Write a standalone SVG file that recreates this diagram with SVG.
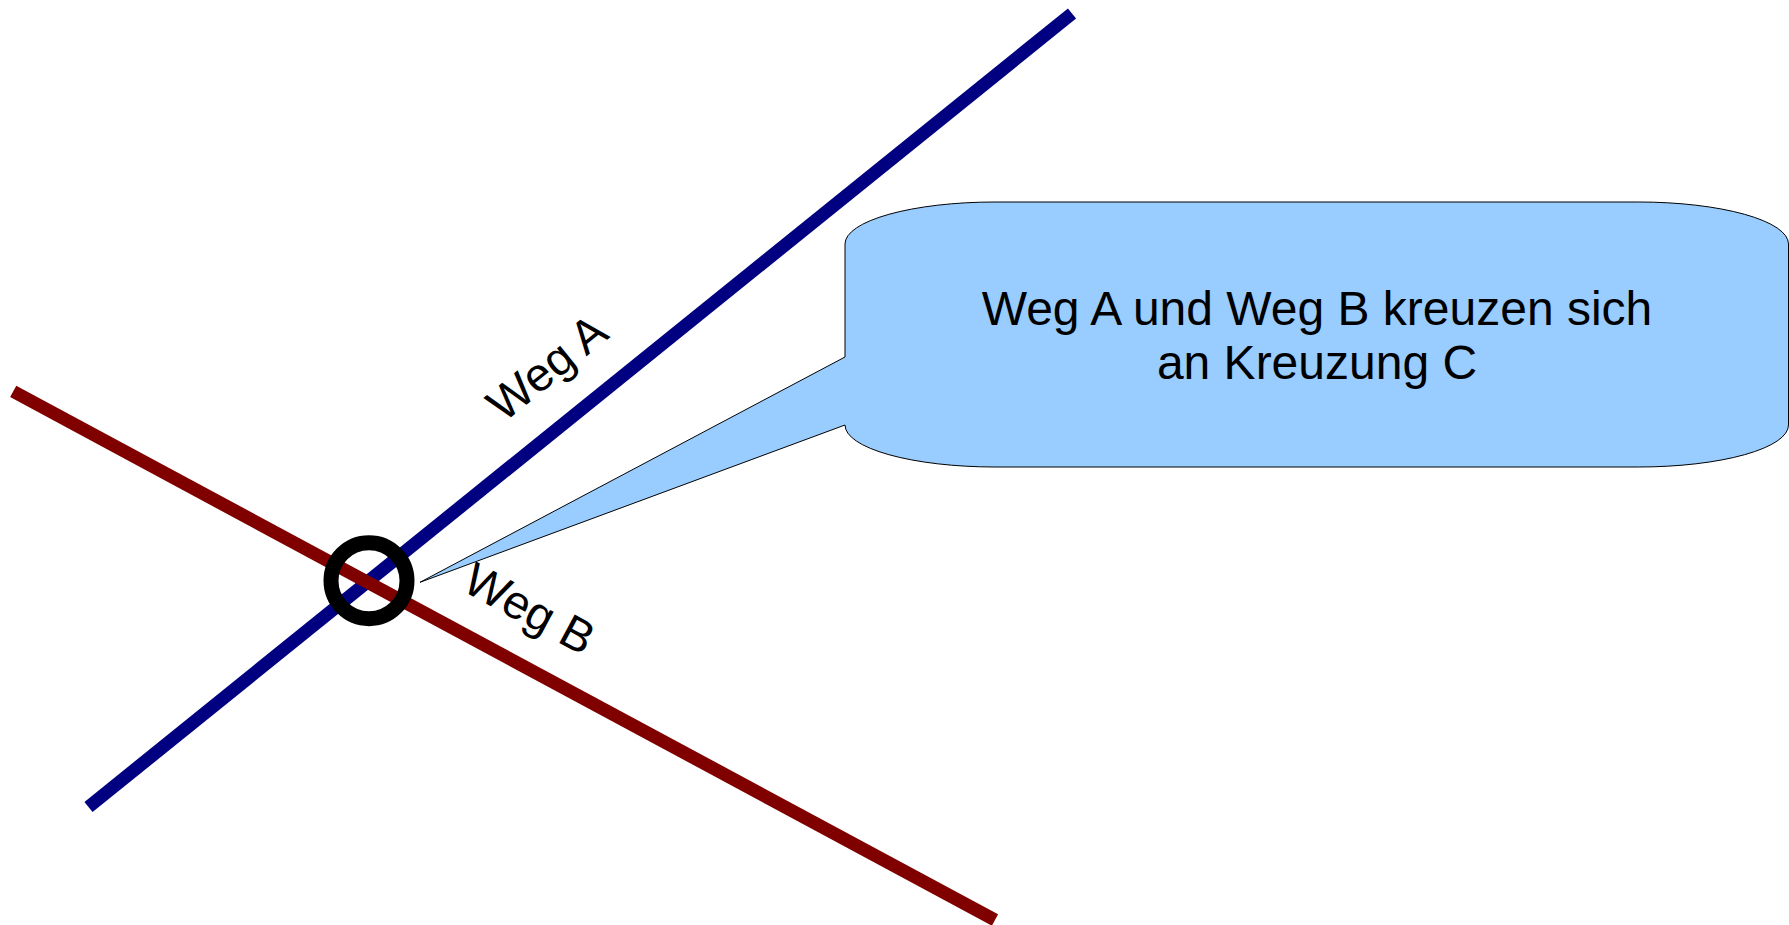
<svg xmlns="http://www.w3.org/2000/svg" width="1789" height="925" viewBox="0 0 1789 925">
  <style>
    .road { fill: none; stroke-width: 13; stroke-linecap: butt; }
    .road-a { stroke: #000080; }
    .road-b { stroke: #800000; }
    .label { font-family: "Liberation Sans", Arial, sans-serif; fill: #000000; }
    .callout { fill: #99ccff; stroke: #000000; stroke-width: 1; stroke-linejoin: miter; }
  </style>
  <rect x="0" y="0" width="1789" height="925" fill="#ffffff"/>

  <!-- the two roads -->
  <g id="connectors">
    <line id="weg-a" class="road road-a" x1="88.5" y1="807" x2="1072" y2="13.5"/>
    <line id="weg-b" class="road road-b" x1="13.2" y1="391.4" x2="995" y2="920"/>
  </g>

  <!-- road labels, rotated along their roads -->
  <g id="label-weg-a">
    <text class="label" font-size="47" text-anchor="middle" transform="translate(557 380) rotate(-38.9)">Weg A</text>
  </g>
  <g id="label-weg-b">
    <text class="label" font-size="47" text-anchor="middle" transform="translate(522 623) rotate(28.3)">Weg B</text>
  </g>

  <!-- intersection marker -->
  <g id="kreuzung-c">
    <circle cx="369" cy="580.7" r="38" fill="none" stroke="#000000" stroke-width="15"/>
  </g>

  <!-- speech bubble pointing at the intersection -->
  <g id="callout">
    <path class="callout" d="M 995 202 H 1638.5 A 150 42 0 0 1 1788.5 244 V 425 A 150 42 0 0 1 1638.5 467 H 995 A 150 42 0 0 1 845 425 L 420 582.3 L 845 357 V 244 A 150 42 0 0 1 995 202 Z"/>
    <text class="label" font-size="48" text-anchor="middle" x="1317" y="325">Weg A und Weg B kreuzen sich</text>
    <text class="label" font-size="48" text-anchor="middle" x="1317" y="378.5">an Kreuzung C</text>
  </g>
</svg>
